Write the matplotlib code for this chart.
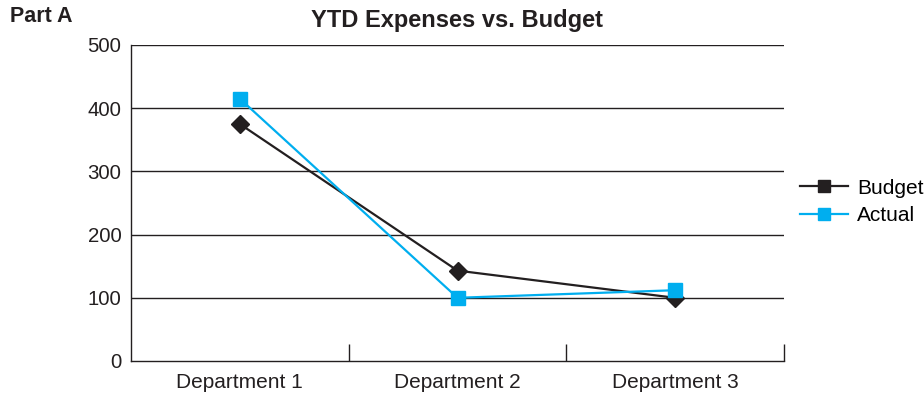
import matplotlib
matplotlib.use('Agg')
import matplotlib.pyplot as plt
from matplotlib.lines import Line2D

plt.rcParams["font.family"] = ['Liberation Sans', 'DejaVu Sans']

departments = ['Department 1', 'Department 2', 'Department 3']
budget = [375, 143, 100]
actual = [415, 100, 112]
y_ticks = [0, 100, 200, 300, 400, 500]

BLACK = '#231f20'
BLUE = '#00aeef'

fig = plt.figure(figsize=(9.24, 3.95), dpi=100)
ax = fig.add_axes([131 / 924, 34 / 395, 653 / 924, 316 / 395])

x = list(range(len(departments)))
ax.plot(x, budget, color=BLACK, lw=1.6, marker='D', ms=9.5,
        mfc=BLACK, mec=BLACK, zorder=3)
ax.plot(x, actual, color=BLUE, lw=1.6, marker='s', ms=9.5,
        mfc=BLUE, mec=BLUE, zorder=4)

ax.set_xlim(-0.5, 2.5)
ax.set_ylim(0, 500)
ax.set_yticks(y_ticks)
ax.set_yticklabels([str(v) for v in y_ticks], fontsize=14.7, color=BLACK)
for v in y_ticks[1:]:
    ax.axhline(v, color=BLACK, lw=1.0, zorder=1)

# category labels sit between the boundary ticks
ax.set_xticks(x)
ax.set_xticklabels(departments, fontsize=15, color=BLACK)
ax.tick_params(axis='x', length=0, pad=9)
ax.set_xticks([0.5, 1.5, 2.5], minor=True)
ax.tick_params(axis='x', which='minor', direction='in', length=12,
               width=1.0, color=BLACK)
ax.tick_params(axis='y', length=0, pad=7)

for side in ['top', 'right']:
    ax.spines[side].set_visible(False)
for side in ['left', 'bottom']:
    ax.spines[side].set_color(BLACK)
    ax.spines[side].set_linewidth(1.0)

handles = [
    Line2D([], [], color=BLACK, lw=1.6, marker='s', ms=8.5),
    Line2D([], [], color=BLUE, lw=1.6, marker='s', ms=8.5),
]
fig.legend(handles, ['Budget', 'Actual'], loc='center left',
           bbox_to_anchor=(800 / 924, 1 - 202 / 395), frameon=False,
           fontsize=15, handlelength=2.3, handletextpad=0.43,
           labelspacing=0.42, borderaxespad=0, borderpad=0)

fig.text(457 / 924, 1 - 21 / 395, 'YTD Expenses vs. Budget', ha='center',
         va='center', fontsize=17, fontweight='bold', color=BLACK)
fig.text(10 / 924, 1 - 17 / 395, 'Part A', ha='left', va='center',
         fontsize=15.5, fontweight='bold', color=BLACK)

fig.savefig('out.png', dpi=100)
